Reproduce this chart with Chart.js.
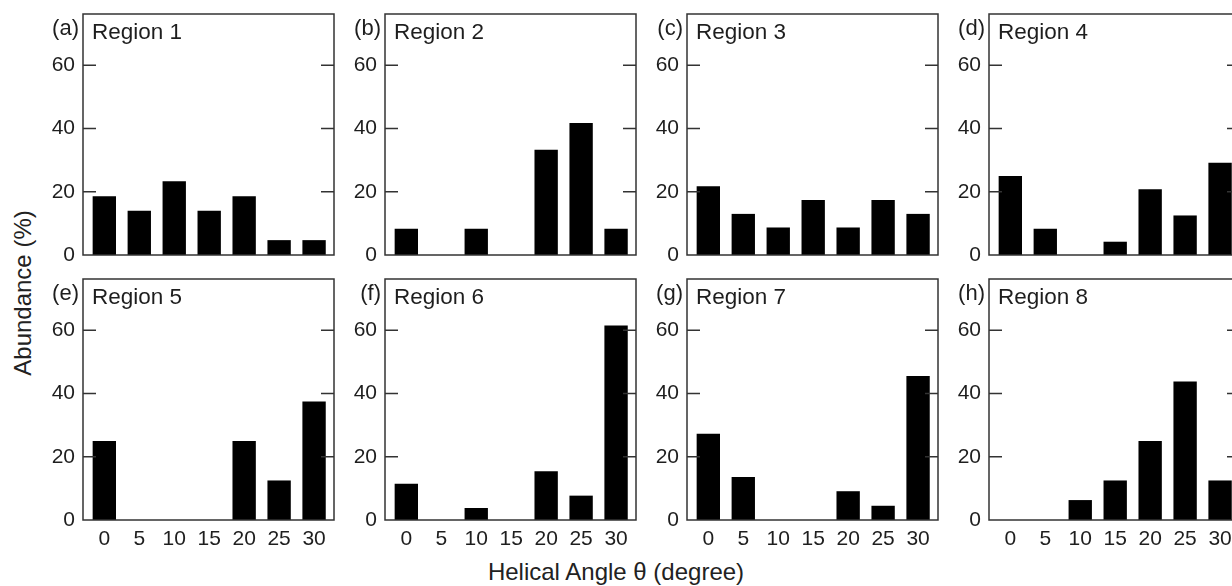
<!DOCTYPE html>
<html><head><meta charset="utf-8">
<script src="https://cdn.jsdelivr.net/npm/chart.js@4.4.1/dist/chart.umd.min.js"></script>
<style>
html,body{margin:0;padding:0;background:#fff;width:1232px;height:586px;overflow:hidden;position:relative;font-family:"Liberation Sans",Arial,sans-serif;}
canvas{position:absolute;}
.ytitle{position:absolute;left:23px;top:293px;transform:translate(-50%,-50%) rotate(-90deg);font-size:24px;line-height:24px;color:#222;white-space:nowrap;}
.xtitle{position:absolute;left:616px;top:560px;transform:translateX(-50%);font-size:24px;line-height:24px;color:#222;white-space:nowrap;}
</style>
</head><body>
<div class="ytitle">Abundance (%)</div>
<div class="xtitle">Helical Angle θ (degree)</div>
<script>
const categories = [0, 5, 10, 15, 20, 25, 30];
const yTicks = [0, 20, 40, 60];
const region1 = [18.6, 14.0, 23.3, 14.0, 18.6, 4.7, 4.7];
const region2 = [8.3, 0, 8.3, 0, 33.3, 41.7, 8.3];
const region3 = [21.7, 13.0, 8.7, 17.4, 8.7, 17.4, 13.0];
const region4 = [25.0, 8.3, 0, 4.2, 20.8, 12.5, 29.2];
const region5 = [25.0, 0, 0, 0, 25.0, 12.5, 37.5];
const region6 = [11.5, 0, 3.8, 0, 15.4, 7.7, 61.5];
const region7 = [27.3, 13.6, 0, 0, 9.1, 4.5, 45.5];
const region8 = [0, 0, 6.3, 12.5, 25.0, 43.8, 12.5];
const panelLetters = ['(a)', '(b)', '(c)', '(d)', '(e)', '(f)', '(g)', '(h)'];
const regionNames = ['Region 1', 'Region 2', 'Region 3', 'Region 4', 'Region 5', 'Region 6', 'Region 7', 'Region 8'];
const seriesList = [region1, region2, region3, region4, region5, region6, region7, region8];

const FONT = '"Liberation Sans", Arial, Helvetica, sans-serif';
const TEXT = '#1e1e1e';

const framePlugin = {
  id: 'frame',
  afterDatasetsDraw(chart, args, opts) {
    const ctx = chart.ctx, a = chart.chartArea, y = chart.scales.y;
    ctx.save();
    ctx.strokeStyle = '#333';
    ctx.lineWidth = 1.5;
    ctx.strokeRect(a.left, a.top, a.right - a.left, a.bottom - a.top);
    ctx.beginPath();
    yTicks.forEach(v => {
      if (v === 0) return;
      const py = y.getPixelForValue(v);
      ctx.moveTo(a.left, py); ctx.lineTo(a.left + 13, py);
      ctx.moveTo(a.right, py); ctx.lineTo(a.right - 13, py);
    });
    ctx.stroke();
    ctx.fillStyle = TEXT;
    ctx.textBaseline = 'alphabetic';
    ctx.font = '22px ' + FONT;
    ctx.textAlign = 'right';
    ctx.fillText(opts.letter, a.left - 4, a.top + 21);
    ctx.font = '22.5px ' + FONT;
    ctx.textAlign = 'left';
    ctx.fillText(opts.name, a.left + 9, a.top + 25);
    ctx.restore();
  }
};

const colX = [83, 385, 687, 989];
const rowTop = [14, 279];
const BOX_W = 251, BOX_H = 241, PAD_T = 22, AXIS_W = 50;

seriesList.forEach((vals, i) => {
  const col = i % 4, row = Math.floor(i / 4);
  const bottomRow = row === 1;
  const cv = document.createElement('canvas');
  const w = AXIS_W + BOX_W + 4;
  const xAxisH = bottomRow ? 32 : 0;
  const padB = bottomRow ? 2 : 22;
  const h = PAD_T + BOX_H + xAxisH + padB;
  cv.width = w; cv.height = h;
  cv.style.width = w + 'px'; cv.style.height = h + 'px';
  cv.style.left = (colX[col] - AXIS_W) + 'px';
  cv.style.top = (rowTop[row] - PAD_T) + 'px';
  document.body.appendChild(cv);
  new Chart(cv, {
    type: 'bar',
    data: {
      datasets: [{
        data: categories.map((c, k) => ({ x: c, y: vals[k] })),
        backgroundColor: '#000',
        borderWidth: 0,
        barPercentage: 0.668,
        categoryPercentage: 1
      }]
    },
    options: {
      responsive: false,
      animation: false,
      devicePixelRatio: 1,
      layout: { padding: { top: PAD_T, bottom: padB, left: 0, right: 4 } },
      plugins: {
        legend: { display: false },
        tooltip: { enabled: false },
        frame: { letter: panelLetters[i], name: regionNames[i] }
      },
      scales: {
        x: {
          type: 'linear',
          offset: false,
          min: -3.05,
          max: 32.85,
          grid: { display: false, drawTicks: false, offset: false },
          border: { display: false },
          ticks: { display: bottomRow, padding: 7, color: TEXT, font: { size: 21, family: FONT } },
          afterBuildTicks: s => { s.ticks = categories.map(v => ({ value: v })); },
          afterFit: s => { s.height = xAxisH; }
        },
        y: {
          min: 0,
          max: 76.2,
          grid: { display: false, drawTicks: false },
          border: { display: false },
          ticks: { padding: 8, color: TEXT, font: { size: 21, family: FONT } },
          afterBuildTicks: s => { s.ticks = yTicks.map(v => ({ value: v })); },
          afterFit: s => { s.width = AXIS_W; }
        }
      }
    },
    plugins: [framePlugin]
  });
});
</script>
</body></html>
